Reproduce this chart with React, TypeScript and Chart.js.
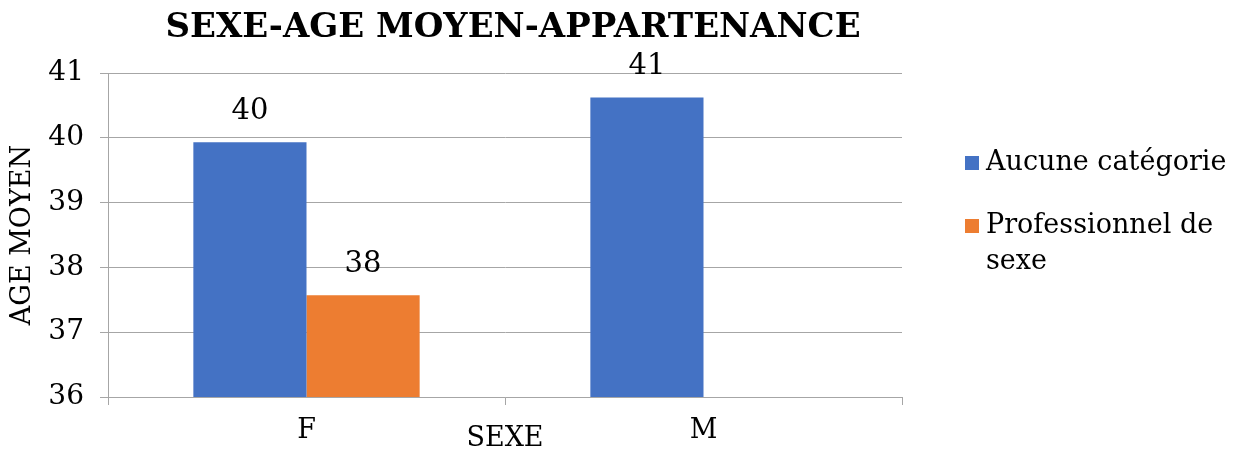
import React, { useEffect, useRef } from 'react';
import { Chart, registerables } from 'chart.js';

Chart.register(...registerables);

const categories = ['F', 'M'];
const aucuneValues: (number | null)[] = [39.93, 40.62];
const professionnelValues: (number | null)[] = [37.57, null];
const seriesNames = ['Aucune catégorie', 'Professionnel de sexe'];
const legendLines = [['Aucune catégorie'], ['Professionnel de', 'sexe']];
const seriesColors = ['#4472C4', '#ED7D31'];
const yMin = 36;
const yMax = 41;
const yStep = 1;
const titleText = 'SEXE-AGE MOYEN-APPARTENANCE';
const xTitle = 'SEXE';
const yTitle = 'AGE MOYEN';

const FONT = "'DejaVu Serif', 'Liberation Serif', serif";
const GRID = '#a6a6a6';

const valueLabelPlugin = {
  id: 'valueLabels',
  afterDatasetsDraw(chart: any) {
    const ctx = chart.ctx;
    ctx.save();
    ctx.font = `29px ${FONT}`;
    ctx.fillStyle = '#000';
    ctx.textAlign = 'center';
    ctx.textBaseline = 'middle';
    chart.data.datasets.forEach((ds: any, di: number) => {
      const meta = chart.getDatasetMeta(di);
      meta.data.forEach((el: any, i: number) => {
        const v = ds.data[i];
        if (v === null || v === undefined) return;
        ctx.fillText(String(Math.round(v)), el.x, el.y - 31);
      });
    });
    ctx.restore();
  },
};

const titleLegendPlugin = {
  id: 'titleLegend',
  afterDraw(chart: any) {
    const ctx = chart.ctx;
    const area = chart.chartArea;
    ctx.save();
    ctx.fillStyle = '#000';
    ctx.textAlign = 'center';
    ctx.textBaseline = 'middle';
    ctx.font = `bold 34px ${FONT}`;
    ctx.fillText(titleText, (area.left + area.right) / 2 + 8, 28);

    ctx.font = `27px ${FONT}`;
    ctx.textAlign = 'left';
    const boxX = area.right + 63;
    const textX = boxX + 21;
    const starts = [163, 226];
    legendLines.forEach((lines, i) => {
      ctx.fillStyle = seriesColors[i];
      ctx.fillRect(boxX, starts[i] - 7, 14, 14);
      ctx.fillStyle = '#000';
      lines.forEach((ln, j) => ctx.fillText(ln, textX, starts[i] + j * 36));
    });
    ctx.restore();
  },
};

export default function App() {
  const ref = useRef<HTMLCanvasElement | null>(null);
  useEffect(() => {
    if (!ref.current) return;
    const chart = new Chart(ref.current, {
      type: 'bar',
      data: {
        labels: categories,
        datasets: [
          { label: seriesNames[0], data: aucuneValues, backgroundColor: seriesColors[0] },
          { label: seriesNames[1], data: professionnelValues, backgroundColor: seriesColors[1] },
        ],
      },
      options: {
        responsive: false,
        animation: false,
        devicePixelRatio: 1,
        layout: { padding: { top: 73, right: 333, bottom: 0, left: 0 } },
        datasets: { bar: { barPercentage: 1, categoryPercentage: 0.57 } },
        plugins: {
          legend: { display: false },
          title: { display: false },
          tooltip: { enabled: false },
        },
        scales: {
          x: {
            grid: { offset: true, drawOnChartArea: false, drawTicks: true, tickLength: 8, color: GRID },
            border: { display: true, color: GRID },
            ticks: { color: '#000', font: { family: FONT, size: 27 }, padding: 10 },
            title: { display: true, text: xTitle, color: '#000', font: { family: FONT, size: 27, lineHeight: 1 }, padding: -2 },
            afterFit: (s: any) => { s.height = 53; },
          },
          y: {
            min: yMin,
            max: yMax,
            ticks: { stepSize: yStep, color: '#000', font: { family: FONT, size: 28 }, padding: 16 },
            grid: { color: GRID, tickLength: 8 },
            border: { display: true, color: GRID },
            title: { display: true, text: yTitle, color: '#000', font: { family: FONT, size: 27, lineHeight: 1 }, padding: 9 },
            afterFit: (s: any) => { s.width = 108; },
          },
        },
      },
      plugins: [valueLabelPlugin, titleLegendPlugin],
    });
    return () => chart.destroy();
  }, []);
  return (
    <div style={{ position: 'absolute', left: 0, top: 0, width: 1235, height: 450, background: '#fff' }}>
      <canvas ref={ref} width={1235} height={450} />
    </div>
  );
}
